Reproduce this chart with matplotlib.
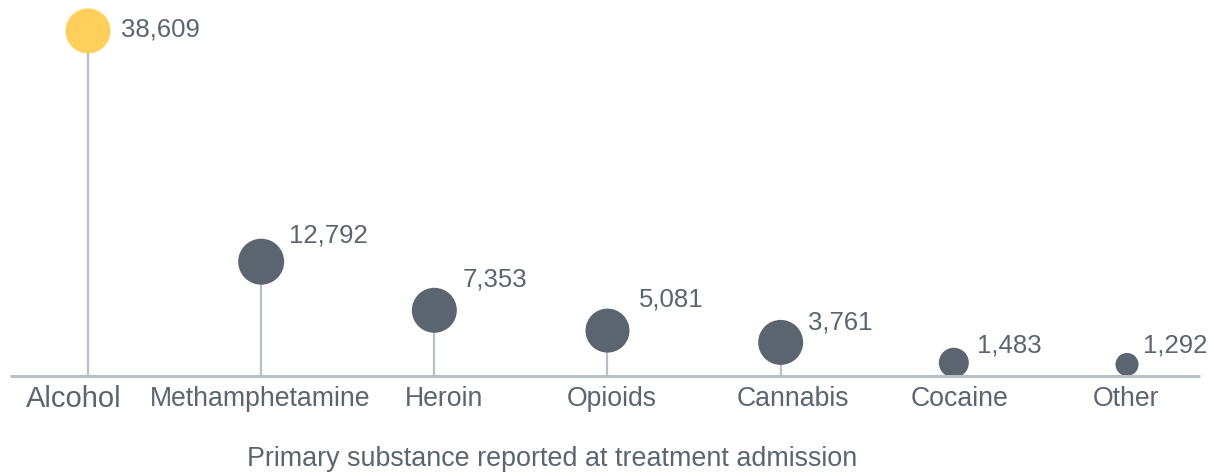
import matplotlib
matplotlib.use("Agg")
import matplotlib.pyplot as plt

# data
categories = ["Alcohol", "Methamphetamine", "Heroin", "Opioids", "Cannabis", "Cocaine", "Other"]
admissions = [38609, 12792, 7353, 5081, 3761, 1483, 1292]

# styles (pixel units at 100 dpi)
marker_radius_px = [22.5, 23, 22.5, 22, 22.5, 15, 11.5]
value_offset_px = [(33, -1), (28, -26), (28, -31), (31, -31), (27, -20), (23, -17), (16, -19)]
label_offset_px = [-14, -1, 10, 4, 12, 6, -1]

YELLOW = "#FECF5B"
DARK = "#5B6570"
STEM = "#B8BFC6"
TEXT = "#5B6570"

W, H, DPI = 1211, 475, 100
PT = 72 / DPI  # px -> points

plt.rcParams["font.family"] = ["Liberation Sans", "DejaVu Sans"]

fig = plt.figure(figsize=(W / DPI, H / DPI), dpi=DPI)
fig.patch.set_facecolor("white")

# axes: y=0 at pixel row 376, max value at row 31; x step ~173 px starting at 88
step = (1127 - 88) / 6
left = (88 - step / 2) / W
ax = fig.add_axes([left, (H - 376) / H, 7 * step / W, (376 - 31) / H])
ax.set_xlim(-0.5, 6.5)
ax.set_ylim(0, admissions[0])
ax.axis("off")

x = list(range(len(categories)))
colors = [YELLOW] + [DARK] * (len(categories) - 1)
sizes = [(2 * r * PT) ** 2 for r in marker_radius_px]

# baseline
fig.add_artist(plt.Line2D([10 / W, 1200 / W], [(H - 376) / H] * 2,
                          color=STEM, lw=2.2, solid_capstyle="butt"))

ax.vlines(x, 0, admissions, color=STEM, lw=1.6, zorder=1, clip_on=False)
ax.scatter(x, admissions, s=sizes, c=colors, linewidths=0, zorder=3, clip_on=False)

for i, (cat, val) in enumerate(zip(categories, admissions)):
    dx, dy = value_offset_px[i]
    ax.annotate(f"{val:,}", xy=(i, val), xytext=(dx * PT, -dy * PT),
                textcoords="offset points", ha="left", va="center",
                fontsize=18.5, color=TEXT, annotation_clip=False)
    ax.annotate(cat, xy=(i, 0), xytext=(label_offset_px[i] * PT, -23 * PT),
                textcoords="offset points", ha="center", va="center",
                fontsize=21 if i == 0 else 19.2, color=TEXT,
                annotation_clip=False)

fig.text(552 / W, 1 - 459 / H, "Primary substance reported at treatment admission",
         ha="center", va="center", fontsize=19.4, color=TEXT)

fig.savefig("out.png", dpi=DPI, facecolor="white")
